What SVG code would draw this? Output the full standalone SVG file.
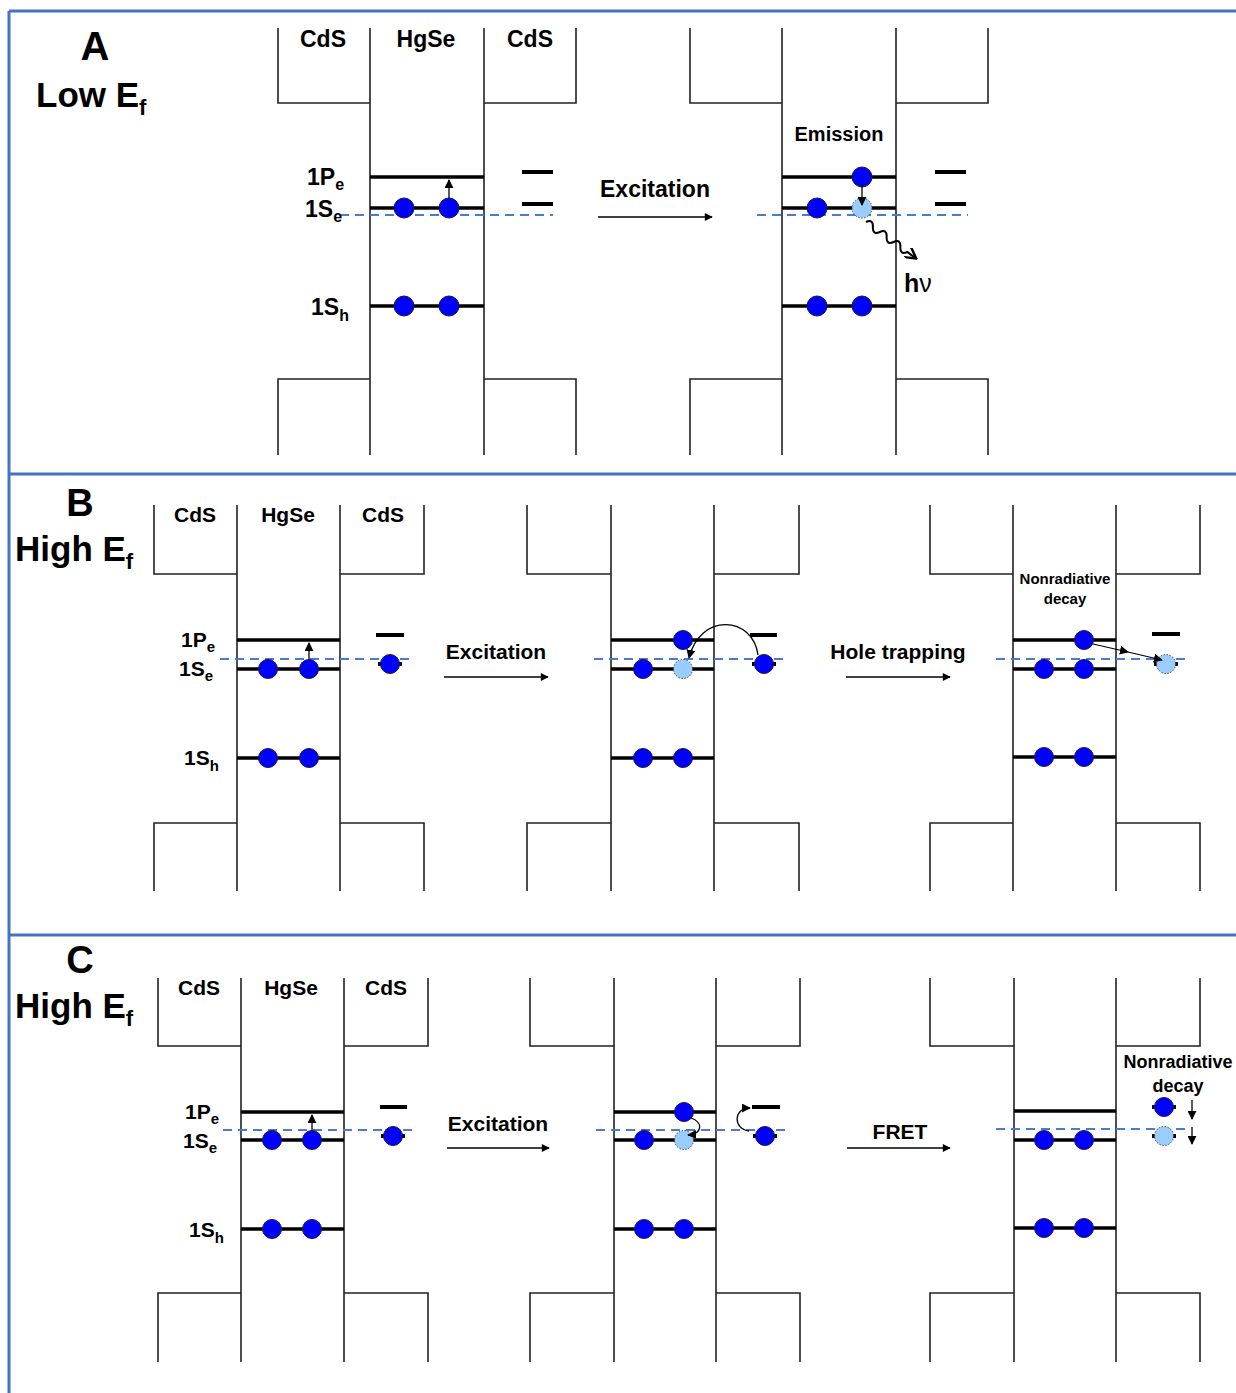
<svg xmlns="http://www.w3.org/2000/svg" width="1236" height="1393" viewBox="0 0 1236 1393">
<defs>
<style>
.frame{stroke:#4472C4;stroke-width:3;fill:none}
.well{stroke:#222;stroke-width:1.6;fill:none}
.lvl{stroke:#000;stroke-width:3.5;fill:none}
.sd{stroke:#000;stroke-width:4;fill:none}
.fermi{stroke:#4A7BD0;stroke-width:2.2;stroke-dasharray:9 6;fill:none}
.e{fill:#0000FF;stroke:#1a1a33;stroke-width:1}
.h{fill:#99CCFF;stroke:#445;stroke-width:1;stroke-dasharray:1.5 1.5}
.arr{stroke:#000;stroke-width:1.3;fill:none;marker-end:url(#ah)}
.big{stroke:#000;stroke-width:1.5;fill:none;marker-end:url(#ah2)}
text{font-family:"Liberation Sans",Arial,sans-serif;font-weight:bold;fill:#000}
.t{text-anchor:middle}
</style>
<marker id="ah" viewBox="0 0 10 10" refX="9" refY="5" markerWidth="9" markerHeight="9" markerUnits="userSpaceOnUse" orient="auto"><path d="M0,0 L10,5 L0,10 z" fill="#000"/></marker>
<marker id="ah2" viewBox="0 0 10 10" refX="9" refY="5" markerWidth="10" markerHeight="8" markerUnits="userSpaceOnUse" orient="auto"><path d="M0,0 L10,5 L0,10 z" fill="#000"/></marker>
<marker id="ah3" viewBox="0 0 10 10" refX="8" refY="5" markerWidth="12" markerHeight="12" markerUnits="userSpaceOnUse" orient="auto"><path d="M0,0 L9,5 L0,10" fill="none" stroke="#000" stroke-width="2"/></marker>
</defs>
<rect width="1236" height="1393" fill="#fff"/>
<g id="frame">
<path class="frame" d="M9,11 H1236 M9,11 V1393 M9,474 H1236 M9,935 H1236"/>
</g>

<!-- Panel A -->
<g id="panelA-title">
<text x="95" y="60" font-size="40" class="t">A</text>
<text x="36" y="107" font-size="35">Low E<tspan font-size="22" dy="8">f</tspan></text>
</g>
<g id="A-left">
<path class="well" d="M278,28 V103 H370 M370,28 V455 M484,28 V455 M576,28 V103 H484 M278,455 V379 H370 M484,379 H576 V455"/>
<text x="323" y="47" font-size="23" class="t">CdS</text>
<text x="426" y="47" font-size="23" class="t">HgSe</text>
<text x="530" y="47" font-size="23" class="t">CdS</text>
<path class="lvl" d="M370,177 H484 M370,208 H484 M370,306 H484"/>
<path class="sd" d="M522,172 H553 M522,204 H553"/>
<path class="fermi" d="M340,215 H553"/>
<path class="arr" d="M449,199 V180"/>
<circle class="e" cx="404" cy="208" r="10"/><circle class="e" cx="449" cy="208" r="10"/>
<circle class="e" cx="404" cy="306" r="10"/><circle class="e" cx="449" cy="306" r="10"/>
<text x="307" y="185" font-size="23">1P<tspan font-size="16" dy="5">e</tspan></text>
<text x="305" y="217" font-size="23">1S<tspan font-size="16" dy="5">e</tspan></text>
<text x="311" y="315" font-size="23">1S<tspan font-size="16" dy="6">h</tspan></text>
</g>
<g id="A-right">
<path class="well" d="M690,28 V103 H782 M782,28 V455 M896,28 V455 M988,28 V103 H896 M690,455 V379 H782 M896,379 H988 V455"/>
<text x="839" y="141" font-size="20" class="t">Emission</text>
<path class="lvl" d="M782,177 H896 M782,208 H896 M782,306 H896"/>
<path class="sd" d="M935,172 H966 M935,204 H966"/>
<path class="fermi" d="M757,215 H968"/>
<circle class="e" cx="862" cy="177" r="10"/>
<circle class="e" cx="817" cy="208" r="10"/>
<circle class="h" cx="862" cy="208" r="10"/>
<path class="arr" d="M862,184 V205"/>
<circle class="e" cx="817" cy="306" r="10"/><circle class="e" cx="862" cy="306" r="10"/>
<g transform="translate(866,222) rotate(36)">
<path d="M0,0 q4,-7 8.5,0 t8.5,0 t8.5,0 t8.5,0 t8.5,0 t8.5,0 l10,0" stroke="#000" stroke-width="2" fill="none" marker-end="url(#ah3)"/>
</g>
<text x="904" y="292" font-size="25">h<tspan font-weight="normal">ν</tspan></text>
</g>
<g id="A-excitation">
<path class="big" d="M598,217 H712"/>
<text x="655" y="197" font-size="23" class="t">Excitation</text>
</g>

<!-- Panel B -->
<g id="panelB-title">
<text x="80" y="516" font-size="38" class="t">B</text>
<text x="15" y="561" font-size="35">High E<tspan font-size="22" dy="8">f</tspan></text>
</g>
<g id="B-left">
<path class="well" d="M154,505 V574 H237 M237,505 V891 M340,505 V891 M424,505 V574 H340 M154,891 V823 H237 M340,823 H424 V891"/>
<text x="195" y="522" font-size="21" class="t">CdS</text>
<text x="288" y="522" font-size="21" class="t">HgSe</text>
<text x="383" y="522" font-size="21" class="t">CdS</text>
<path class="lvl" d="M237,640 H340 M237,669 H340 M237,758 H340"/>
<path class="sd" d="M376,635 H404 M378,664 H402"/>
<path class="fermi" d="M220,659 H410"/>
<path class="arr" d="M309,662 V643"/>
<circle class="e" cx="268" cy="669" r="9.5"/><circle class="e" cx="309" cy="669" r="9.5"/>
<circle class="e" cx="268" cy="758" r="9.5"/><circle class="e" cx="309" cy="758" r="9.5"/>
<circle class="e" cx="390" cy="664" r="9.5"/>
<text x="181" y="647" font-size="21">1P<tspan font-size="15" dy="5">e</tspan></text>
<text x="179" y="676" font-size="21">1S<tspan font-size="15" dy="5">e</tspan></text>
<text x="184" y="765" font-size="21">1S<tspan font-size="15" dy="6">h</tspan></text>
</g>
<g id="B-excitation">
<path class="big" d="M444,677 H548"/>
<text x="496" y="659" font-size="21" class="t">Excitation</text>
</g>
<g id="B-mid">
<path class="well" d="M527,505 V574 H611 M611,505 V891 M714,505 V891 M799,505 V574 H714 M527,891 V823 H611 M714,823 H799 V891"/>
<path class="lvl" d="M611,640 H714 M611,669 H714 M611,758 H714"/>
<path class="sd" d="M750,635 H777 M752,664 H776"/>
<path class="fermi" d="M594,659 H785"/>
<circle class="e" cx="683" cy="640" r="9.5"/>
<circle class="e" cx="643" cy="669" r="9.5"/>
<circle class="h" cx="683" cy="669" r="9.5"/>
<circle class="e" cx="643" cy="758" r="9.5"/><circle class="e" cx="683" cy="758" r="9.5"/>
<circle class="e" cx="764" cy="664" r="9.5"/>
<path class="arr" d="M758,655 C753,616 700,612 689,658"/>
</g>
<g id="B-holetrap">
<path class="big" d="M846,677 H950"/>
<text x="898" y="659" font-size="21" class="t">Hole trapping</text>
</g>
<g id="B-right">
<path class="well" d="M930,505 V574 H1013 M1013,505 V891 M1116,505 V891 M1200,505 V574 H1116 M930,891 V823 H1013 M1116,823 H1200 V891"/>
<text x="1065" y="584" font-size="15" class="t">Nonradiative</text>
<text x="1065" y="604" font-size="15" class="t">decay</text>
<path class="lvl" d="M1013,640 H1116 M1013,669 H1116 M1013,757 H1116"/>
<path class="sd" d="M1152,634 H1180 M1154,664 H1178"/>
<path class="fermi" d="M996,659 H1187"/>
<circle class="e" cx="1084" cy="640" r="9.5"/>
<circle class="e" cx="1044" cy="669" r="9.5"/><circle class="e" cx="1084" cy="669" r="9.5"/>
<circle class="e" cx="1044" cy="757" r="9.5"/><circle class="e" cx="1084" cy="757" r="9.5"/>
<circle class="h" cx="1166" cy="664" r="9.5"/>
<polyline points="1093,644 1128,652 1162,660" stroke="#000" stroke-width="1.2" fill="none" marker-mid="url(#ah)" marker-end="url(#ah)"/>
</g>

<!-- Panel C -->
<g id="panelC-title">
<text x="80" y="973" font-size="38" class="t">C</text>
<text x="15" y="1018" font-size="35">High E<tspan font-size="22" dy="8">f</tspan></text>
</g>
<g id="C-left">
<path class="well" d="M158,978 V1046 H241 M241,978 V1362 M344,978 V1362 M428,978 V1046 H344 M158,1362 V1293 H241 M344,1293 H428 V1362"/>
<text x="199" y="995" font-size="21" class="t">CdS</text>
<text x="291" y="995" font-size="21" class="t">HgSe</text>
<text x="386" y="995" font-size="21" class="t">CdS</text>
<path class="lvl" d="M241,1112 H344 M241,1140 H344 M241,1229 H344"/>
<path class="sd" d="M380,1107 H407 M381,1136 H405"/>
<path class="fermi" d="M223,1130 H413"/>
<path class="arr" d="M312,1133 V1115"/>
<circle class="e" cx="272" cy="1140" r="9.5"/><circle class="e" cx="312" cy="1140" r="9.5"/>
<circle class="e" cx="272" cy="1229" r="9.5"/><circle class="e" cx="312" cy="1229" r="9.5"/>
<circle class="e" cx="393" cy="1136" r="9.5"/>
<text x="185" y="1119" font-size="21">1P<tspan font-size="15" dy="5">e</tspan></text>
<text x="183" y="1148" font-size="21">1S<tspan font-size="15" dy="5">e</tspan></text>
<text x="189" y="1237" font-size="21">1S<tspan font-size="15" dy="6">h</tspan></text>
</g>
<g id="C-excitation">
<path class="big" d="M447,1148 H549"/>
<text x="498" y="1131" font-size="21" class="t">Excitation</text>
</g>
<g id="C-mid">
<path class="well" d="M530,978 V1046 H614 M614,978 V1362 M716,978 V1362 M800,978 V1046 H716 M530,1362 V1293 H614 M716,1293 H800 V1362"/>
<path class="lvl" d="M614,1112 H716 M614,1140 H716 M614,1229 H716"/>
<path class="sd" d="M752,1107 H780 M753,1136 H777"/>
<path class="fermi" d="M596,1130 H786"/>
<circle class="e" cx="684" cy="1112" r="9.5"/>
<circle class="e" cx="644" cy="1140" r="9.5"/>
<circle class="h" cx="684" cy="1140" r="9.5"/>
<circle class="e" cx="644" cy="1229" r="9.5"/><circle class="e" cx="684" cy="1229" r="9.5"/>
<circle class="e" cx="765" cy="1136" r="9.5"/>
<path class="arr" d="M691,1118 C703,1122 703,1134 688,1135"/>
<path class="arr" d="M749,1131 C733,1129 733,1108 750,1108"/>
</g>
<g id="C-fret">
<path class="big" d="M847,1148 H950"/>
<text x="900" y="1139" font-size="21" class="t">FRET</text>
</g>
<g id="C-right">
<path class="well" d="M930,978 V1046 H1014 M1014,978 V1362 M1116,978 V1362 M1200,978 V1046 H1116 M930,1362 V1293 H1014 M1116,1293 H1200 V1362"/>
<path class="lvl" d="M1014,1111 H1116 M1014,1140 H1116 M1014,1228 H1116"/>
<path class="fermi" d="M996,1129 H1187"/>
<circle class="e" cx="1044" cy="1140" r="9.5"/><circle class="e" cx="1084" cy="1140" r="9.5"/>
<circle class="e" cx="1044" cy="1228" r="9.5"/><circle class="e" cx="1084" cy="1228" r="9.5"/>
<path class="sd" d="M1152,1107 H1176 M1152,1136 H1176"/>
<circle class="e" cx="1164" cy="1107" r="9.5"/>
<circle class="h" cx="1164" cy="1136" r="9.5"/>
<path class="arr" d="M1192,1100 V1119"/>
<path class="arr" d="M1192,1127 V1144"/>
<text x="1178" y="1068" font-size="18" class="t">Nonradiative</text>
<text x="1178" y="1092" font-size="18" class="t">decay</text>
</g>
</svg>
